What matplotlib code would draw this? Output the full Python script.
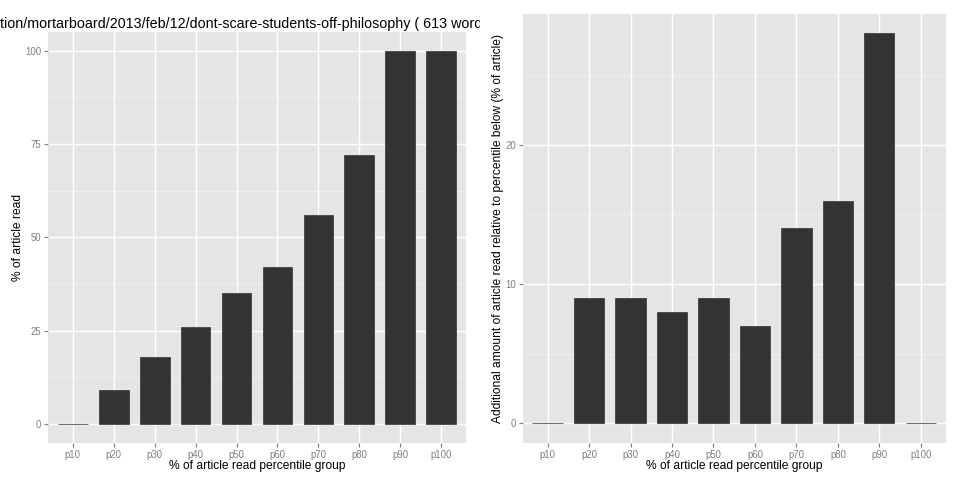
import matplotlib
matplotlib.use("Agg")
import matplotlib.pyplot as plt
from matplotlib.transforms import Bbox

plt.rcParams['font.family'] = ['Liberation Sans', 'DejaVu Sans']

categories = ["p10", "p20", "p30", "p40", "p50", "p60", "p70", "p80", "p90", "p100"]
pct_read = [0, 9, 18, 26, 35, 42, 56, 72, 100, 100]
additional = [0, 9, 9, 8, 9, 7, 14, 16, 28, 0]
left_yticks = [0, 25, 50, 75, 100]
left_minor = [12.5, 37.5, 62.5, 87.5]
right_yticks = [0, 10, 20]
right_minor = [5, 15, 25]

title_hidden = "educa"
title = title_hidden + "tion/mortarboard/2013/feb/12/dont-scare-students-off-philosophy ( 613 words )"
xlabel = "% of article read percentile group"
ylabel_left = "% of article read"
ylabel_right = "Additional amount of article read relative to percentile below (% of article)"

BG = "#E5E5E5"
BAR = "#333333"
TICK = "#7F7F7F"

fig = plt.figure(figsize=(9.6, 4.8), dpi=100)
W, H = 960, 480

def frac(x0, y0, x1, y1):
    return [x0 / W, 1 - y1 / H, (x1 - x0) / W, (y1 - y0) / H]

axL = fig.add_axes(frac(48, 32, 466, 442.7))
axR = fig.add_axes(frac(522.7, 14, 945.7, 442.7))

def style(ax, vals, yticks, yminor, ylabel):
    n = len(categories)
    pos = list(range(n))
    ax.set_facecolor(BG)
    for s in ax.spines.values():
        s.set_visible(False)
    top = max(vals)
    pad = top * 0.05
    ax.set_ylim(-pad, top + pad)
    ax.set_xlim(-0.6, n - 0.4)
    for m in yminor:
        ax.axhline(m, color="#F2F2F2", lw=0.55, zorder=0.5)
    for t in yticks:
        ax.axhline(t, color="white", lw=1.05, zorder=0.6)
    for p in pos:
        ax.axvline(p, color="white", lw=1.05, zorder=0.6)
    ax.bar(pos, vals, width=0.73, color=BAR, edgecolor=BAR, linewidth=0.5, zorder=2)
    ax.set_xticks(pos)
    ax.set_xticklabels(categories)
    ax.set_yticks(yticks)
    ax.set_yticklabels([str(t) for t in yticks])
    ax.tick_params(axis="both", colors=TICK, labelcolor=TICK, labelsize=6.9,
                   length=2.9, width=0.8, pad=2)
    ax.set_xlabel(xlabel, fontsize=8.64, color="black", labelpad=0)
    ax.set_ylabel(ylabel, fontsize=8.64, color="black", labelpad=1)

style(axL, pct_read, left_yticks, left_minor, ylabel_left)
style(axR, additional, right_yticks, right_minor, ylabel_right)

# title: clipped to the left plot's area, as in the reference
fs = 10.3
renderer = fig.canvas.get_renderer()
probe = fig.text(0, 0, title_hidden, fontsize=fs)
hidden_w = probe.get_window_extent(renderer).width
probe.remove()
t = fig.text(-hidden_w / W, 1 - 24 / H, title, ha="left", va="center", fontsize=fs, color="black")
t.set_clip_on(True)
t.set_clip_box(Bbox.from_extents(0, 0, 480, 480))

fig.savefig("out.png", dpi=100)
